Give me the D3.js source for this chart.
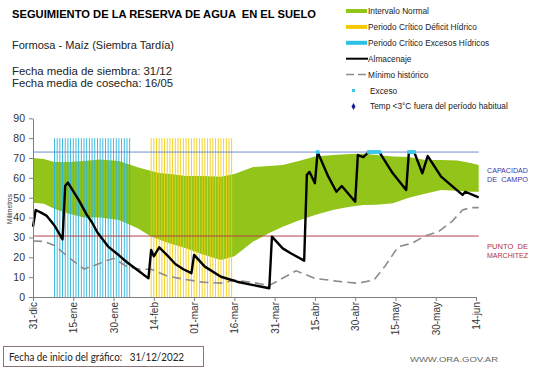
<!DOCTYPE html>
<html>
<head>
<meta charset="utf-8">
<script src="https://cdn.jsdelivr.net/npm/d3@7"></script>
<style>
  body { margin: 0; background: #fff; }
  svg { font-family: "Liberation Sans", Arial, sans-serif; }
  text { white-space: pre; }
</style>
</head>
<body>
<svg id="chart" width="541" height="368"></svg>
<script>
// dias contados desde el 31-dic
const tickDias = [0, 15, 30, 45, 60, 75, 90, 105, 120, 135, 150, 165];
const tickLabels = ["31-dic","15-ene","30-ene","14-feb","01-mar","16-mar","31-mar","15-abr","30-abr","15-may","30-may","14-jun"];

// intervalo normal (banda verde)
const bandaDias = [0, 4, 8, 13, 19, 25, 32, 39, 44, 47, 51, 57, 63, 70, 75, 82, 88, 93, 99, 105, 112, 118, 123, 128, 134, 140, 146, 152, 158, 163, 166];
const bandaSup  = [70, 69.5, 68, 68, 68.5, 69.3, 68.5, 65.3, 63.5, 62.5, 62, 61, 61, 60.5, 62, 65.5, 66, 66.5, 68.5, 70.7, 71.5, 72, 72.2, 71.5, 70.7, 70.5, 69, 69, 68.7, 67.5, 66.5];
const bandaInf  = [47.5, 47, 44.5, 42, 40, 40, 38.8, 34.6, 30.5, 29, 27, 24.5, 21.5, 18.6, 20.5, 27.9, 32.2, 35.4, 38.5, 41.3, 44, 45.5, 46.3, 46.5, 47.2, 50, 52, 53.9, 53.5, 53, 53];

// almacenaje
const almDias = [0, 1, 3, 5, 8, 11, 12, 13, 17, 20, 22, 24, 28, 32, 35, 40, 43, 44, 45, 47, 50, 53, 56, 59, 60, 64, 70, 76, 82, 88, 89, 93, 96, 101, 102, 103, 105, 106, 110, 113, 115, 120, 121, 123, 125, 129, 134, 139, 140, 142, 145, 147, 152, 157, 160, 161, 166];
const almVal  = [35.4, 43.8, 42.5, 41, 36, 29, 56, 57.6, 48.9, 41.5, 37.5, 32.5, 25.4, 21, 17.5, 12.5, 9.4, 23.7, 20.5, 25, 21, 16.6, 14, 12, 21.2, 15.3, 10.2, 7.7, 6, 4.4, 30.4, 24.5, 22, 18.3, 61.5, 63, 57.3, 73, 60.6, 53, 55.9, 48, 71.5, 70.5, 73, 73, 62.3, 53.9, 73, 73, 62.3, 71, 60.6, 54.8, 51.4, 53, 50.2];

// minimo historico
const minDias = [0, 4, 8, 13, 19, 25, 30, 35, 40, 44, 50, 56, 63, 70, 75, 81, 88, 98, 105, 113, 121, 127, 131, 136, 141, 146, 151, 156, 160, 163, 166];
const minVal  = [28.2, 28, 26, 20.3, 14.1, 17, 19.5, 15.3, 13.9, 14, 10.5, 9, 7.5, 7, 8.5, 7.5, 5.8, 13.2, 9.4, 8, 6.9, 8.6, 15.3, 25.3, 27, 30.7, 32.9, 38, 43.8, 45, 45];

// periodos criticos (primer y ultimo dia) y dias con exceso
const periodoExceso = [8, 36];
const periodoDeficit = [44, 74];
const alturaPeriodo = 80;
const excesoDias = [106, 125, 126, 127, 128, 129, 140, 141, 142];
const capacidadCampo = 73;
const puntoMarchitez = 30.7;

const svg = d3.select("#chart");

const x = d3.scaleLinear().domain([0, 165]).range([33, 476]);
const y = d3.scaleLinear().domain([0, 90]).range([297, 118.3]);

const verde = "#92c41a";

// banda normal
const banda = bandaDias.map((d, i) => ({d: d, hi: bandaSup[i], lo: bandaInf[i]}));
svg.append("path")
    .datum(banda)
    .attr("fill", verde)
    .attr("d", d3.area().x(p => x(p.d)).y0(p => y(p.lo)).y1(p => y(p.hi)));

// periodos criticos: una barra fina por dia
function periodo(rango, color, cls) {
    const dias = d3.range(rango[0], rango[1] + 1);
    svg.selectAll("." + cls)
        .data(dias)
        .enter().append("rect")
        .attr("class", cls)
        .attr("x", d => x(d) - 0.45)
        .attr("width", 0.9)
        .attr("y", y(alturaPeriodo))
        .attr("height", y(0) - y(alturaPeriodo))
        .attr("fill", color);
}
periodo(periodoExceso, "#2ab4da", "exc");
periodo(periodoDeficit, "#f2cd12", "def");

// lineas de referencia
svg.append("line")
    .attr("x1", x(0)).attr("x2", x(166))
    .attr("y1", y(capacidadCampo)).attr("y2", y(capacidadCampo))
    .attr("stroke", "#6f8fcf").attr("stroke-width", 1);
svg.append("line")
    .attr("x1", x(0)).attr("x2", x(166))
    .attr("y1", y(puntoMarchitez)).attr("y2", y(puntoMarchitez))
    .attr("stroke", "#b5404a").attr("stroke-width", 1);

// minimo historico
svg.append("path")
    .datum(minDias.map((d, i) => [d, minVal[i]]))
    .attr("fill", "none")
    .attr("stroke", "#8c8c8c")
    .attr("stroke-width", 1.6)
    .attr("stroke-dasharray", "9 5")
    .attr("d", d3.line().x(p => x(p[0])).y(p => y(p[1])));

// almacenaje
svg.append("path")
    .datum(almDias.map((d, i) => [d, almVal[i]]))
    .attr("fill", "none")
    .attr("stroke", "#000")
    .attr("stroke-width", 2.4)
    .attr("stroke-linejoin", "round")
    .attr("d", d3.line().x(p => x(p[0])).y(p => y(p[1])));

// excesos
svg.selectAll(".exceso")
    .data(excesoDias)
    .enter().append("rect")
    .attr("class", "exceso")
    .attr("x", d => x(d) - 1.8)
    .attr("y", y(capacidadCampo) - 1.8)
    .attr("width", 3.6)
    .attr("height", 3.6)
    .attr("fill", "#3cc8ee");

// ejes
const yAxis = svg.append("g")
    .attr("transform", "translate(" + x(0) + ",0)")
    .call(d3.axisLeft(y).tickValues(d3.range(0, 91, 10)).tickSize(4).tickSizeOuter(0).tickPadding(4));
yAxis.selectAll("text").attr("font-size", 10.5).attr("fill", "#333").attr("font-family", "Liberation Sans, Arial");
yAxis.selectAll("line, path").attr("stroke", "#7f7f7f");

const xAxis = svg.append("g")
    .attr("transform", "translate(0," + y(0) + ")")
    .call(d3.axisBottom(x).tickValues(tickDias).tickFormat((d, i) => tickLabels[i]).tickSize(4).tickSizeOuter(0));
xAxis.selectAll("line, path").attr("stroke", "#7f7f7f");
xAxis.selectAll("text")
    .attr("font-size", 10)
    .attr("fill", "#333")
    .attr("font-family", "Liberation Sans, Arial")
    .attr("text-anchor", "end")
    .attr("transform", "rotate(-90)")
    .attr("x", -5)
    .attr("y", 0)
    .attr("dy", "0.35em");

svg.append("text")
    .attr("transform", "translate(12,209) rotate(-90)")
    .attr("text-anchor", "middle")
    .attr("font-size", 6.5)
    .attr("fill", "#333")
    .text("Milímetros");

// etiquetas de las lineas de referencia
const etiquetas = [
    {t: ["CAPACIDAD", "DE  CAMPO"], y: 173, c: "#3a3aa8"},
    {t: ["PUNTO  DE", "MARCHITEZ"], y: 249, c: "#b03040"}
];
etiquetas.forEach(e => {
    e.t.forEach((s, i) => {
        svg.append("text")
            .attr("x", 487).attr("y", e.y + i * 9)
            .attr("font-size", 7.6)
            .attr("fill", e.c)
            .attr("textLength", 41).attr("lengthAdjust", "spacingAndGlyphs")
            .text(s);
    });
});

// textos de cabecera
svg.append("text")
    .attr("x", 12).attr("y", 18)
    .attr("font-size", 10.5).attr("font-weight", "bold").attr("fill", "#000")
    .attr("textLength", 304).attr("lengthAdjust", "spacingAndGlyphs")
    .text("SEGUIMIENTO DE LA RESERVA DE AGUA  EN EL SUELO");
const cabecera = [
    {t: "Formosa - Maíz (Siembra Tardía)", y: 49, w: 162},
    {t: "Fecha media de siembra: 31/12", y: 75, w: 160},
    {t: "Fecha media de cosecha: 16/05", y: 87, w: 161}
];
cabecera.forEach(c => {
    svg.append("text")
        .attr("x", 12).attr("y", c.y)
        .attr("font-size", 11).attr("fill", "#222")
        .attr("textLength", c.w).attr("lengthAdjust", "spacingAndGlyphs")
        .text(c.t);
});

// leyenda
const leyenda = [
    {t: "Intervalo Normal", tipo: "barra", c: verde},
    {t: "Periodo Crítico Déficit Hídrico", tipo: "barra", c: "#f5c800"},
    {t: "Periodo Crítico Excesos Hídricos", tipo: "barra", c: "#2fc0e6"},
    {t: "Almacenaje", tipo: "linea", c: "#000"},
    {t: "Mínimo histórico", tipo: "guiones", c: "#8c8c8c"},
    {t: "Exceso", tipo: "punto", c: "#3cc8ee"},
    {t: "Temp <3°C fuera del período habitual", tipo: "rombo", c: "#1a1a9a"}
];
const lg = svg.append("g").attr("font-size", 8.3).attr("fill", "#222");
leyenda.forEach((l, i) => {
    const cy = 11 + i * 15.9;
    if (l.tipo === "barra") {
        lg.append("rect").attr("x", 346).attr("y", cy - 2).attr("width", 21).attr("height", 4).attr("fill", l.c);
    } else if (l.tipo === "linea") {
        lg.append("line").attr("x1", 346).attr("x2", 368).attr("y1", cy).attr("y2", cy).attr("stroke", l.c).attr("stroke-width", 2);
    } else if (l.tipo === "guiones") {
        lg.append("line").attr("x1", 346).attr("x2", 368).attr("y1", cy).attr("y2", cy).attr("stroke", l.c).attr("stroke-width", 1.5).attr("stroke-dasharray", "8 4");
    } else if (l.tipo === "punto") {
        lg.append("rect").attr("x", 352).attr("y", cy - 1.5).attr("width", 3).attr("height", 3).attr("fill", l.c);
    } else {
        lg.append("path").attr("d", d3.symbol(d3.symbolDiamond, 14)()).attr("transform", "translate(353.5," + cy + ")").attr("fill", l.c);
    }
    lg.append("text")
        .attr("x", l.tipo === "punto" || l.tipo === "rombo" ? 370 : 368)
        .attr("y", cy + 3)
        .text(l.t);
});

// pie
svg.append("rect")
    .attr("x", 3.5).attr("y", 346.5).attr("width", 200).attr("height", 20)
    .attr("fill", "#fff").attr("stroke", "#8a7474").attr("stroke-width", 1);
svg.append("text")
    .attr("x", 9).attr("y", 360.5)
    .attr("font-family", "Lato, sans-serif").attr("font-size", 11).attr("fill", "#222")
    .attr("textLength", 175).attr("lengthAdjust", "spacingAndGlyphs")
    .text("Fecha de inicio del gráfico:   31/12/2022");
svg.append("text")
    .attr("x", 410).attr("y", 362)
    .attr("font-size", 8).attr("fill", "#666")
    .attr("textLength", 88).attr("lengthAdjust", "spacingAndGlyphs")
    .text("WWW.ORA.GOV.AR");
</script>
</body>
</html>
